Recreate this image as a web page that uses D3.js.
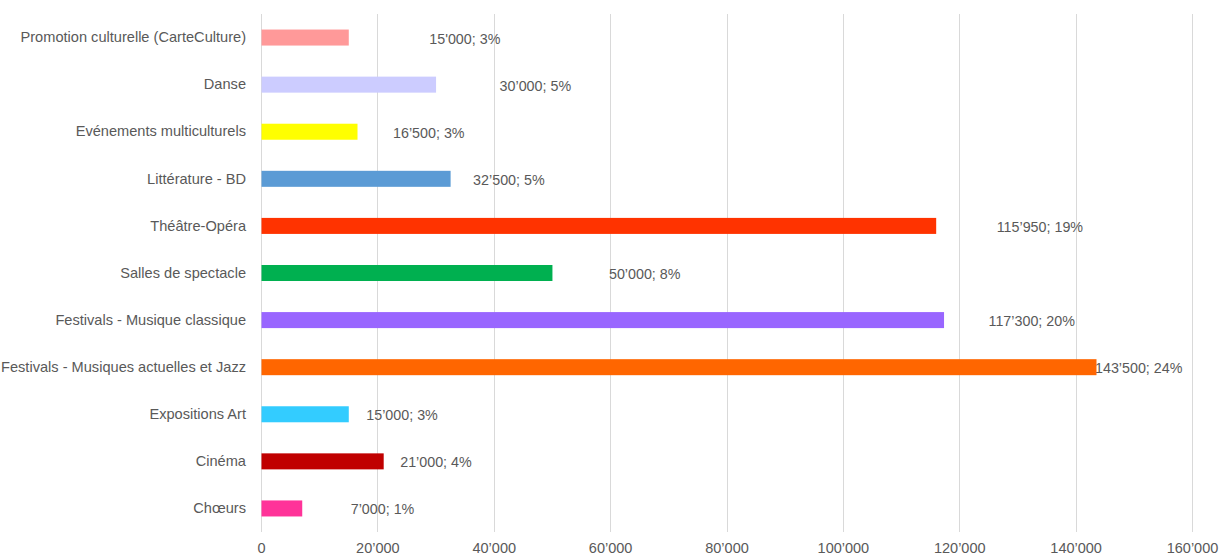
<!DOCTYPE html>
<html>
<head>
<meta charset="utf-8">
<script src="https://cdn.jsdelivr.net/npm/d3@7"></script>
<style>
  html, body { margin: 0; padding: 0; background: #ffffff; }
  svg { display: block; }
  text { font-family: "Liberation Sans", Arial, sans-serif; fill: #595959; }
</style>
</head>
<body>
<svg id="chart" width="1219" height="558"></svg>
<script>
// ---- Data ----
const categories = [
  "Promotion culturelle (CarteCulture)",
  "Danse",
  "Evénements multiculturels",
  "Littérature - BD",
  "Théâtre-Opéra",
  "Salles de spectacle",
  "Festivals - Musique classique",
  "Festivals - Musiques actuelles et Jazz",
  "Expositions Art",
  "Cinéma",
  "Chœurs"
];
const values = [15000, 30000, 16500, 32500, 115950, 50000, 117300, 143500, 15000, 21000, 7000];
const percents = [3, 5, 3, 5, 19, 8, 20, 24, 3, 4, 1];
const dataLabels = [
  "15'000; 3%", "30’000; 5%", "16’500; 3%", "32’500; 5%", "115’950; 19%",
  "50’000; 8%", "117’300; 20%", "143’500; 24%", "15’000; 3%", "21’000; 4%", "7’000; 1%"
];
const tickValues = [0, 20000, 40000, 60000, 80000, 100000, 120000, 140000, 160000];
const tickLabels = ["0", "20’000", "40’000", "60’000", "80’000", "100’000", "120’000", "140’000", "160’000"];

// ---- Style / layout ----
const colors = ["#FF9999", "#CCCCFF", "#FFFF00", "#5B9BD5", "#FF3300", "#00B050",
                "#9966FF", "#FF6600", "#33CCFF", "#C00000", "#FF3399"];
// manually placed label offsets (px from bar end), as in the original
const labelOffsets = [81, 64, 36, 23, 61, 57, 45, -1, 18, 17, 49];

const svg = d3.select("#chart");
const mLeft = 261, mRight = 1192, mTop = 14, mBottom = 532;

const x = d3.scaleLinear().domain([0, 160000]).range([mLeft, mRight]);
const y = d3.scaleBand().domain(categories).range([mTop, mBottom]).paddingInner(0.66).paddingOuter(0.33);

// gridlines
svg.append("g").selectAll("line").data(tickValues).join("line")
  .attr("x1", d => Math.round(x(d)) + 0.5).attr("x2", d => Math.round(x(d)) + 0.5)
  .attr("y1", mTop).attr("y2", mBottom)
  .attr("stroke", "#D9D9D9").attr("stroke-width", 1);

// x axis labels
const xAxis = d3.axisBottom(x).tickValues(tickValues)
  .tickFormat((d, i) => tickLabels[i]).tickSize(0).tickPadding(0);
const gx = svg.append("g").attr("transform", `translate(0,${mBottom + 11})`).call(xAxis);
gx.select(".domain").remove();
gx.selectAll("text").attr("font-size", 14.5).attr("fill", "#595959")
  .style("font-family", '"Liberation Sans", Arial, sans-serif');

// y axis labels
const yAxis = d3.axisLeft(y).tickSize(0).tickPadding(15);
const gy = svg.append("g").attr("transform", `translate(${mLeft},0)`).call(yAxis);
gy.select(".domain").remove();
gy.selectAll("text").attr("font-size", 14.6).attr("fill", "#595959")
  .style("font-family", '"Liberation Sans", Arial, sans-serif');

// bars
svg.append("g").selectAll("rect").data(values).join("rect")
  .attr("x", x(0) + 0.5)
  .attr("y", (d, i) => y(categories[i]))
  .attr("width", d => x(d) - x(0))
  .attr("height", y.bandwidth())
  .attr("fill", (d, i) => colors[i]);

// data labels
svg.append("g").selectAll("text").data(values).join("text")
  .attr("x", (d, i) => x(d) + labelOffsets[i])
  .attr("y", (d, i) => y(categories[i]) + y.bandwidth() / 2 + 1)
  .attr("dy", "0.35em")
  .attr("font-size", 14.3)
  .text((d, i) => dataLabels[i]);
</script>
</body>
</html>
